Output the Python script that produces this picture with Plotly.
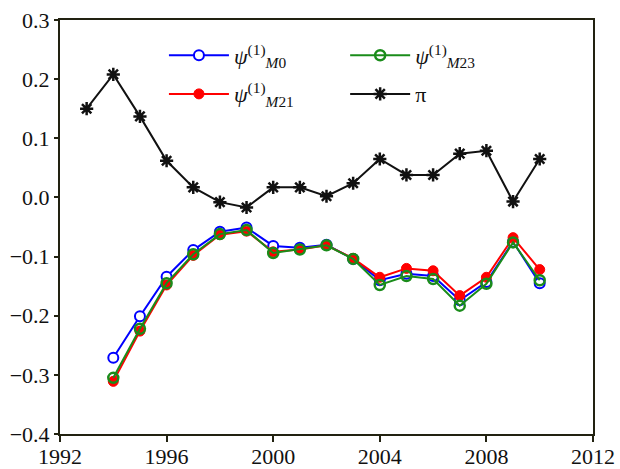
import plotly.graph_objects as go

years_pi = list(range(1993, 2011))
pi_vals = [0.150, 0.208, 0.137, 0.062, 0.017, -0.008, -0.017, 0.017, 0.017, 0.002,
           0.024, 0.065, 0.038, 0.038, 0.074, 0.079, -0.007, 0.065]

years_psi = list(range(1994, 2011))
psi_m0 = [-0.271, -0.201, -0.134, -0.089, -0.058, -0.051, -0.082, -0.085, -0.080, -0.104,
          -0.140, -0.129, -0.133, -0.174, -0.143, -0.075, -0.145]
psi_m21 = [-0.311, -0.226, -0.148, -0.098, -0.063, -0.057, -0.092, -0.088, -0.081, -0.103,
           -0.135, -0.120, -0.124, -0.166, -0.135, -0.068, -0.122]
psi_m23 = [-0.305, -0.222, -0.145, -0.096, -0.062, -0.055, -0.094, -0.088, -0.081, -0.104,
           -0.148, -0.133, -0.138, -0.183, -0.146, -0.076, -0.140]

x_ticks = [1992, 1996, 2000, 2004, 2008, 2012]
y_ticks = [0.3, 0.2, 0.1, 0.0, -0.1, -0.2, -0.3, -0.4]

serif = "'Liberation Serif', 'Times New Roman', 'DejaVu Serif', serif"

fig = go.Figure()
fig.add_trace(go.Scatter(
    x=years_psi, y=psi_m0, mode="lines+markers",
    name="<i>ψ</i><sup>(1)</sup><sub><i>M</i>0</sub>",
    line=dict(color="#0000ff", width=2),
    marker=dict(symbol="circle", size=10, color="white", line=dict(color="#0000ff", width=2)),
    legend="legend", legendgroup="a"))
fig.add_trace(go.Scatter(
    x=years_psi, y=psi_m21, mode="lines+markers",
    name="<i>ψ</i><sup>(1)</sup><sub><i>M</i>21</sub>",
    line=dict(color="#ff0000", width=2),
    marker=dict(symbol="circle", size=10, color="#ff0000", line=dict(color="#ff0000", width=1)),
    legend="legend", legendgroup="b"))
fig.add_trace(go.Scatter(
    x=years_psi, y=psi_m23, mode="lines+markers",
    name="<i>ψ</i><sup>(1)</sup><sub><i>M</i>23</sub>",
    line=dict(color="#1a8c1a", width=2),
    marker=dict(symbol="circle-open", size=10, color="#1a8c1a", line=dict(color="#1a8c1a", width=2.5)),
    legend="legend2", legendgroup="c"))
fig.add_trace(go.Scatter(
    x=years_pi, y=pi_vals, mode="lines+markers",
    name="π",
    line=dict(color="#111111", width=2),
    marker=dict(symbol="asterisk-open", size=11, color="#111111", line=dict(color="#111111", width=2.5)),
    legend="legend2", legendgroup="d"))

axis_common = dict(
    showline=True, linecolor="#222211", linewidth=2, mirror=True,
    ticks="outside", tickwidth=2, tickcolor="#222211",
    showgrid=False, zeroline=False, automargin=False,
    tickfont=dict(family=serif, size=22, color="#111111"),
)

fig.update_xaxes(range=[1992, 2012], tickvals=x_ticks, ticktext=[str(t) for t in x_ticks],
                 ticklen=6, ticklabelstandoff=-4, **axis_common)
fig.update_yaxes(range=[-0.4, 0.3], tickvals=y_ticks,
                 ticktext=[f"{t:.1f}".replace("-", "−") if t != 0 else "0.0" for t in y_ticks],
                 ticklen=4, **axis_common)

legend_common = dict(
    bgcolor="rgba(0,0,0,0)", borderwidth=0,
    font=dict(family=serif, size=22, color="#111111"),
    orientation="v", xanchor="left", yanchor="top",
    tracegroupgap=7, itemwidth=60,
)
fig.update_layout(
    width=620, height=469,
    margin=dict(l=60, r=27, t=20, b=35, autoexpand=False),
    paper_bgcolor="white", plot_bgcolor="white",
    font=dict(family=serif),
    legend=dict(x=0.195, y=0.965, **legend_common),
    legend2=dict(x=0.535, y=0.965, **legend_common),
)

fig.write_html("out.html")
